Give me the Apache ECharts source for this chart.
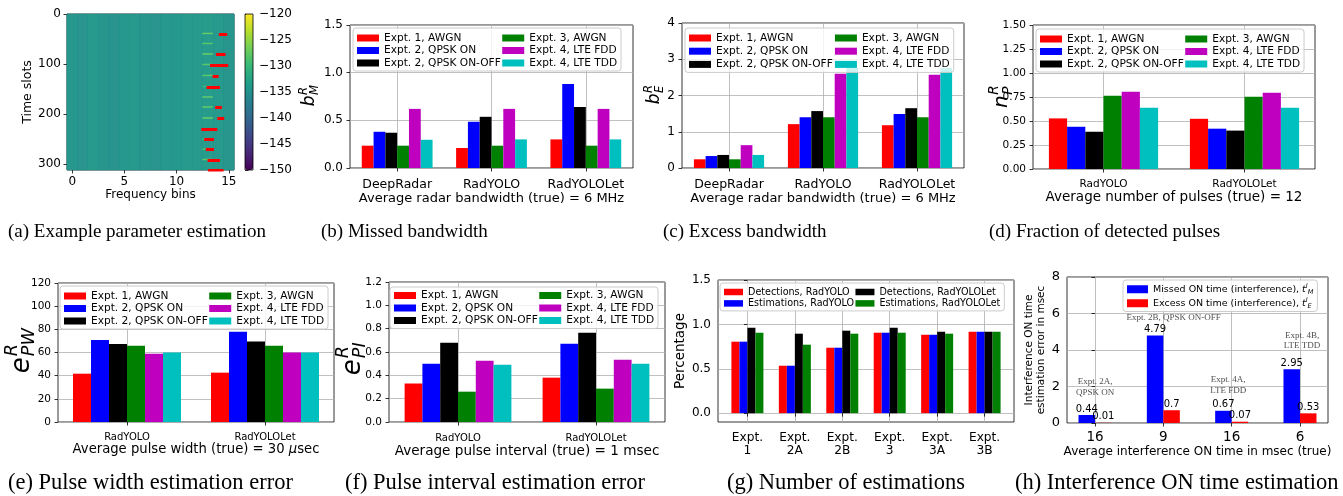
<!DOCTYPE html>
<html><head><meta charset="utf-8">
<script src="https://cdn.jsdelivr.net/npm/echarts@6.0.0/dist/echarts.min.js"></script>
<style>html,body{margin:0;padding:0;background:#fff}#c{width:1343px;height:496px}</style>
</head><body><div id="c"></div>
<script>
// ---------------- DATA ----------------
// (a) example parameter estimation (spectrogram + estimated pulses)
const freqBins = ['0','1','2','3','4','5','6','7','8','9','10','11','12','13','14','15'];
const slotCount = 312;
const colLevel = [-134.5,-134.8,-134.2,-134.6,-134.9,-134.5,-134.3,-134.6,-134.8,-134.4,-134.5,-134.2,-134.3,-134.0,-134.3,-134.6];
const pulseCol = 13;
const pulseRows = [39,59,80,101,123,145,166,186,208,230,250,270,291];
const pulseLevel = [-127,-128,-127.5,-128,-128,-130,-128,-128,-127.5,-122,-129,-129,-128];
const estRows = [39,80,101,123,145,186,208,230,250,270,291,311];
const estFrom = [14.05,13.77,13.2,13.45,12.88,13.7,13.9,12.37,12.65,12.8,12.97,13.0];
const estTo   = [14.85,14.69,14.95,14.02,14.15,14.34,14.56,13.9,13.58,13.58,14.15,14.5];
const cbarMin = -150, cbarMax = -120;

// shared
const exptNames = ['Expt. 1, AWGN','Expt. 2, QPSK ON','Expt. 2, QPSK ON-OFF','Expt. 3, AWGN','Expt. 4, LTE FDD','Expt. 4, LTE TDD'];
const bwCats = ['DeepRadar','RadYOLO','RadYOLOLet'];
const modelCats = ['RadYOLO','RadYOLOLet'];

// (b) missed bandwidth, one array per experiment
const missedBW = [
  [0.234,0.21,0.30],
  [0.38,0.485,0.88],
  [0.37,0.537,0.64],
  [0.234,0.234,0.234],
  [0.62,0.62,0.62],
  [0.296,0.30,0.30]
];
// (c) excess bandwidth
const excessBW = [
  [0.24,1.21,1.18],
  [0.33,1.40,1.49],
  [0.36,1.57,1.65],
  [0.24,1.40,1.40],
  [0.63,2.60,2.57],
  [0.36,2.76,2.76]
];
// (d) fraction of detected pulses
const pulseFrac = [
  [0.527,0.523],
  [0.44,0.42],
  [0.388,0.40],
  [0.762,0.752],
  [0.804,0.793],
  [0.637,0.637]
];
// (e) pulse width error
const pwErr = [
  [41.7,42.6],
  [70.8,78.0],
  [67.3,69.4],
  [65.9,65.9],
  [59.0,59.9],
  [59.9,59.9]
];
// (f) pulse interval error
const piErr = [
  [0.33,0.38],
  [0.50,0.67],
  [0.68,0.766],
  [0.26,0.286],
  [0.526,0.534],
  [0.49,0.50]
];
// (g) number of estimations
const estCats = ['Expt.\n1','Expt.\n2A','Expt.\n2B','Expt.\n3','Expt.\n3A','Expt.\n3B'];
const estNames = ['Detections, RadYOLO','Estimations, RadYOLO','Detections, RadYOLOLet','Estimations, RadYOLOLet'];
const detYolo = [0.805,0.534,0.737,0.906,0.883,0.917];
const estYolo = [0.805,0.534,0.737,0.906,0.883,0.917];
const detLet  = [0.962,0.895,0.929,0.962,0.917,0.917];
const estLet  = [0.906,0.771,0.895,0.906,0.895,0.917];
// (h) interference ON time
const ifCats = ['16','9','16','6'];
const missedOn = [0.44,4.79,0.67,2.95];
const excessOn = [0.01,0.7,0.07,0.53];
const annText = ['Expt. 2A,\nQPSK ON','Expt. 2B, QPSK ON-OFF','Expt. 4A,\nLTE FDD','Expt. 4B,\nLTE TDD'];
const annX = [0, 1.15, 1.95, 3.03];
const annY = [1.97, 5.75, 2.08, 4.52];

// ---------------- STYLE ----------------
const FONT = 'DejaVu Sans';
const SERIF = 'Liberation Serif';
const COLORS = ['#ff0000','#0000ff','#000000','#008000','#bf00bf','#00bfbf'];
const GRIDC = '#b0b0b0';
const VIRIDIS = ['#440154','#482878','#3e4989','#31688e','#26828e','#1f9e89','#35b779','#6ece58','#b5de2b','#fde725'];

const grids = [], xAxes = [], yAxes = [], series = [], legends = [], graphics = [];

function addGrid(l,t,w,h,extra){
  grids.push(Object.assign({left:l, top:t, width:w, height:h, show:true, borderColor:'#000', borderWidth:0.8,
    backgroundColor:'transparent', containLabel:false, outerBoundsMode:'none'}, extra||{}));
  return grids.length-1;
}
const tick = {show:true, length:3.5, lineStyle:{color:'#000', width:0.8}};
const split = {show:true, lineStyle:{color:GRIDC, width:0.8}};

// ---------- (a) heatmap ----------
const heat = [];
for (let c = 0; c < freqBins.length; c++) for (let r = 0; r < slotCount; r++) heat.push([c, r, colLevel[c]]);
pulseRows.forEach((r, i) => { for (let k = -1; k <= 1; k++) { const rr = r + k; if (rr >= 0 && rr < slotCount) heat[pulseCol*slotCount + rr][2] = pulseLevel[i]; } });
const slotLabels = Array.from({length: slotCount}, (_, i) => String(i));

let gi = addGrid(67,14,167,156);
xAxes.push({type:'category', gridIndex:gi, data:freqBins, axisLine:{show:false},
  axisTick:Object.assign({interval:4, alignWithLabel:true}, tick),
  axisLabel:{interval:4, color:'#000', fontSize:12, fontFamily:FONT, margin:6}, splitLine:{show:false},
  name:'Frequency bins', nameLocation:'middle', nameGap:17, nameTextStyle:{color:'#000', fontSize:12, fontFamily:FONT}});
yAxes.push({type:'category', gridIndex:gi, data:slotLabels, inverse:true, axisLine:{show:false},
  axisTick:Object.assign({interval:99, alignWithLabel:true}, tick),
  axisLabel:{interval:99, color:'#000', fontSize:12, fontFamily:FONT, margin:6}, splitLine:{show:false},
  name:'Time slots', nameLocation:'middle', nameRotate:90, nameGap:31, nameTextStyle:{color:'#000', fontSize:12.5, fontFamily:FONT}});
series.push({type:'heatmap', xAxisIndex:gi, yAxisIndex:gi, data:heat, progressive:0, silent:true, emphasis:{disabled:true}});

gi = addGrid(67,14,167,156,{show:false});
xAxes.push({type:'value', gridIndex:gi, min:-0.5, max:15.5, show:false});
yAxes.push({type:'value', gridIndex:gi, min:-0.5, max:slotCount-0.5, inverse:true, show:false});
series.push({type:'lines', coordinateSystem:'cartesian2d', xAxisIndex:gi, yAxisIndex:gi, silent:true, z:5,
  data: estRows.map((r,i)=>({coords:[[estFrom[i], r],[estTo[i], r]]})),
  lineStyle:{color:'#ff0000', width:3, opacity:1, cap:'butt'}});

gi = addGrid(245,14,8,156,{z:6});
xAxes.push({type:'value', gridIndex:gi, min:0, max:1, show:false});
yAxes.push({type:'value', gridIndex:gi, position:'right', min:cbarMin, max:cbarMax, interval:5,
  axisLine:{show:false}, axisTick:tick, splitLine:{show:false},
  axisLabel:{color:'#000', fontSize:12, fontFamily:FONT, margin:6, formatter:v=>(v<0?'\u2212':'')+Math.abs(v)}});

// ---------- generic grouped bar chart ----------
function barChart(cfg){
  const g = addGrid(cfg.rect[0],cfg.rect[1],cfg.rect[2],cfg.rect[3]);
  xAxes.push({type:'category', gridIndex:g, data:cfg.cats, axisLine:{show:false},
    axisTick:Object.assign({alignWithLabel:true, interval:0}, tick),
    axisLabel:{interval:0, hideOverlap:false, color:'#000', fontSize:cfg.catFs, fontFamily:FONT, margin:cfg.catMargin},
    splitLine:{show:true, interval:0, alignWithLabel:true, lineStyle:{color:GRIDC, width:0.8}},
    name:cfg.title, nameLocation:'middle', nameGap:cfg.titleGap,
    nameTextStyle:{color:'#000', fontSize:cfg.titleFs, fontFamily:FONT,
      rich:{i:{fontStyle:'italic', fontSize:cfg.titleFs, fontFamily:FONT, color:'#000'}}}});
  yAxes.push({type:'value', gridIndex:g, min:cfg.y[0], max:cfg.y[1], interval:cfg.y[2],
    axisLine:{show:false}, axisTick:tick, splitLine:split,
    axisLabel:{color:'#000', fontSize:cfg.tickFs, fontFamily:FONT, margin:7, formatter:v=>v.toFixed(cfg.y[3])}});
  cfg.data.forEach((d,i)=>series.push({type:'bar', name:exptNames[i], xAxisIndex:g, yAxisIndex:g, data:d,
    barWidth:cfg.bw, barGap:'0%', itemStyle:{color:COLORS[i]}, silent:true}));
  const col1 = exptNames.slice(0,3);
  const L = cfg.leg;
  legends.push({data:exptNames, left:L.left, top:L.top, orient:'vertical', height:40, selectedMode:false,
    itemWidth:22, itemHeight:7, itemGap:L.gap||1.5, icon:'rect', padding:L.pad||[4.5,4,2.5,4],
    borderColor:'#cccccc', borderWidth:1, borderRadius:3, backgroundColor:'rgba(255,255,255,0.8)',
    textStyle:{color:'#000', fontSize:L.fs, fontFamily:FONT,
      rich:{w:{width:L.w, fontSize:L.fs, fontFamily:FONT, color:'#000'}, n:{fontSize:L.fs, fontFamily:FONT, color:'#000'}}},
    formatter:name=>(col1.indexOf(name)>=0?'{w|':'{n|')+name+'}'});
}

barChart({rect:[350,25,283,143], cats:bwCats, data:missedBW, y:[0,1.5,0.5,1], bw:11.8, tickFs:12, catFs:12.5, catMargin:10,
  title:'Average radar bandwidth (true) = 6 MHz', titleFs:13, titleGap:24, leg:{left:353, top:28, w:122.5, fs:10.6}});
barChart({rect:[682,23,282,145], cats:bwCats, data:excessBW, y:[0,4,1,0], bw:11.7, tickFs:12, catFs:12.5, catMargin:10,
  title:'Average radar bandwidth (true) = 6 MHz', titleFs:13, titleGap:24, leg:{left:685, top:28, w:122.5, fs:10.6, gap:2.2}});
barChart({rect:[1033,25,282,144], cats:modelCats, data:pulseFrac, y:[0,1.5,0.25,2], bw:18.2, tickFs:10.5, catFs:10.5, catMargin:10,
  title:'Average number of pulses (true) = 12', titleFs:13.5, titleGap:21.5, leg:{left:1036, top:29, w:123.5, fs:10.6}});
barChart({rect:[58,283,276,139], cats:modelCats, data:pwErr, y:[0,120,20,0], bw:18, tickFs:10.5, catFs:10, catMargin:10,
  title:'Average pulse width (true) = 30 {i|\u03bc}sec', titleFs:13.2, titleGap:21.5, leg:{left:60, top:286, w:121.5, fs:10.6}});
barChart({rect:[389,282,276,140], cats:modelCats, data:piErr, y:[0,1.2,0.2,1], bw:17.8, tickFs:10.5, catFs:10, catMargin:11,
  title:'Average pulse interval (true) = 1 msec', titleFs:13.6, titleGap:22.5, leg:{left:390, top:287, w:119.5, fs:10.6, pad:[3,4,2.5,4]}});

// ---------- (g) number of estimations ----------
gi = addGrid(718,280,296,142);
const gTicks = estCats.map((_,i)=>i);
xAxes.push({type:'value', gridIndex:gi, min:-0.62, max:5.62, axisLine:{show:false},
  axisTick:Object.assign({customValues:gTicks}, tick), splitLine:split,
  axisLabel:{customValues:gTicks, color:'#000', fontSize:12.2, fontFamily:FONT, margin:10, lineHeight:12.5, align:'center',
    formatter:v=>estCats[Math.round(v)]}});
yAxes.push({type:'value', gridIndex:gi, min:-0.1, max:1.5, axisLine:{show:false},
  axisTick:Object.assign({customValues:[0,0.5,1,1.5]}, tick), splitLine:split,
  axisLabel:{customValues:[0,0.5,1,1.5], color:'#000', fontSize:12, fontFamily:FONT, margin:7, formatter:v=>v.toFixed(1)},
  name:'Percentage', nameLocation:'middle', nameRotate:90, nameGap:31, nameTextStyle:{color:'#000', fontSize:13.5, fontFamily:FONT}});
[detYolo, estYolo, detLet, estLet].forEach((arr,i)=>series.push({type:'bar', name:estNames[i], xAxisIndex:gi, yAxisIndex:gi,
  data:arr.map((v,j)=>[j,v]), barWidth:8, barGap:'0%', silent:true, itemStyle:{color:[COLORS[0],COLORS[1],COLORS[2],COLORS[3]][i]}}));
legends.push({data:estNames, left:720, top:283, orient:'vertical', height:24, selectedMode:false,
  itemWidth:19, itemHeight:6.5, itemGap:1.4, icon:'rect', padding:[4,4,2.5,4],
  borderColor:'#cccccc', borderWidth:1, borderRadius:3, backgroundColor:'rgba(255,255,255,0.8)',
  textStyle:{color:'#000', fontSize:9.6, fontFamily:FONT,
    rich:{w:{width:110.6, fontSize:9.6, fontFamily:FONT, color:'#000'}, n:{fontSize:9.6, fontFamily:FONT, color:'#000'}}},
  formatter:name=>(estNames.indexOf(name)<2?'{w|':'{n|')+name+'}'});

// ---------- (h) interference ON time ----------
gi = addGrid(1067,277,261,146);
const hTicks = ifCats.map((_,i)=>i);
xAxes.push({type:'value', gridIndex:gi, min:-0.41, max:3.41, axisLine:{show:false},
  axisTick:Object.assign({customValues:hTicks}, tick), splitLine:split,
  axisLabel:{customValues:hTicks, color:'#000', fontSize:13.5, fontFamily:FONT, margin:7.5, formatter:v=>ifCats[Math.round(v)]},
  name:'Average interference ON time in msec (true)', nameLocation:'middle', nameGap:19,
  nameTextStyle:{color:'#000', fontSize:12, fontFamily:FONT}});
yAxes.push({type:'value', gridIndex:gi, min:0, max:8, interval:2, axisLine:{show:false}, axisTick:tick, splitLine:split,
  axisLabel:{color:'#000', fontSize:13, fontFamily:FONT, margin:7},
  name:'Interference ON time\nestimation error in msec', nameLocation:'middle', nameRotate:90, nameGap:19,
  nameTextStyle:{color:'#000', fontSize:10.5, lineHeight:12.5, fontFamily:FONT, align:'center'}});
const hNames = ['Missed ON time (interference)','Excess ON time (interference)'];
const hSub = ['M','E'];
[missedOn, excessOn].forEach((arr,i)=>series.push({type:'bar', name:hNames[i], xAxisIndex:gi, yAxisIndex:gi,
  data:arr.map((v,j)=>[j,v]), barWidth:16.5, barGap:'0%', silent:true, itemStyle:{color:i===0?COLORS[1]:COLORS[0]},
  label:{show:true, position:'top', distance:1, color:'#000', fontSize:10, fontFamily:FONT, formatter:p=>String(p.value[1])}}));
series.push({type:'scatter', xAxisIndex:gi, yAxisIndex:gi, symbolSize:0, silent:true,
  data:annText.map((t,i)=>({value:[annX[i], annY[i]], name:t})),
  label:{show:true, position:'inside', formatter:p=>p.name, color:'#222', fontSize:9, lineHeight:10.5, fontFamily:SERIF, align:'center'}});
legends.push({data:hNames, left:1123, top:280, orient:'vertical', selectedMode:false,
  itemWidth:21, itemHeight:8, itemGap:1.5, icon:'rect', padding:[3,4,2,4],
  borderColor:'#cccccc', borderWidth:1, borderRadius:3, backgroundColor:'rgba(255,255,255,0.8)',
  textStyle:{color:'#000', fontSize:9.5, fontFamily:FONT, lineHeight:12.5,
    rich:{t:{fontStyle:'italic', fontSize:9.5, fontFamily:FONT, color:'#000', lineHeight:12.5},
          sup:{fontStyle:'italic', fontSize:6.5, fontFamily:FONT, color:'#000', verticalAlign:'top'},
          sub:{fontStyle:'italic', fontSize:6.5, fontFamily:FONT, color:'#000', verticalAlign:'bottom'}}},
  formatter:name=>name+', {t|t}{sup|I}{sub|'+hSub[hNames.indexOf(name)]+'}'});

// ---------- math y labels ----------
function mathLabel(cx, cy, base, sup, sub, fs){
  const ss = fs*0.68, bw = fs*0.64;
  const sw = Math.max(sup.length, sub.length)*ss*0.68;
  const x0 = -(bw+sw)/2;
  const st = (t,f)=>({text:t, font:'italic '+f+'px "'+FONT+'"', fill:'#000', textAlign:'left', align:'left', textVerticalAlign:'middle', verticalAlign:'middle'});
  return {type:'group', x:cx, y:cy, rotation:Math.PI/2, children:[
    {type:'text', x:x0, y:0, style:st(base, fs)},
    {type:'text', x:x0+bw+0.5, y:-fs*0.36, style:st(sup, ss)},
    {type:'text', x:x0+bw+0.5, y:fs*0.30, style:st(sub, ss)}
  ]};
}
graphics.push(mathLabel(310,97,'b','R','M',17));
graphics.push(mathLabel(655,95,'b','R','E',17));
graphics.push(mathLabel(1002,97,'n','R','P',20));
graphics.push(mathLabel(22,353,'e','R','PW',26));
graphics.push(mathLabel(353,355,'e','R','PI',26));

// ---------- captions ----------
const capTop = ['(a) Example parameter estimation','(b) Missed bandwidth','(c) Excess bandwidth','(d) Fraction of detected pulses'];
const capBot = ['(e) Pulse width estimation error','(f) Pulse interval estimation error','(g) Number of estimations','(h) Interference ON time estimation'];
const capTopX = [8,321,663,989], capBotX = [8,345,727,1015];
capTop.forEach((t,i)=>graphics.push({type:'text', x:capTopX[i], y:232, style:{text:t, font:'19px "'+SERIF+'"', fill:'#000', textAlign:'left', align:'left', textVerticalAlign:'middle', verticalAlign:'middle'}}));
capBot.forEach((t,i)=>graphics.push({type:'text', x:capBotX[i], y:483, style:{text:t, font:'22.5px "'+SERIF+'"', fill:'#000', textAlign:'left', align:'left', textVerticalAlign:'middle', verticalAlign:'middle'}}));

const chart = echarts.init(document.getElementById('c'), null, {renderer:'canvas'});
chart.setOption({
  animation:false, backgroundColor:'#ffffff',
  grid:grids, xAxis:xAxes, yAxis:yAxes, series:series, legend:legends,
  visualMap:[{type:'continuous', min:cbarMin, max:cbarMax, seriesIndex:0, left:245, top:14, itemWidth:8, itemHeight:156,
    padding:0, calculable:false, text:null, hoverLink:false, inRange:{color:VIRIDIS}, z:4}],
  graphic:{elements:graphics}
});
</script></body></html>
